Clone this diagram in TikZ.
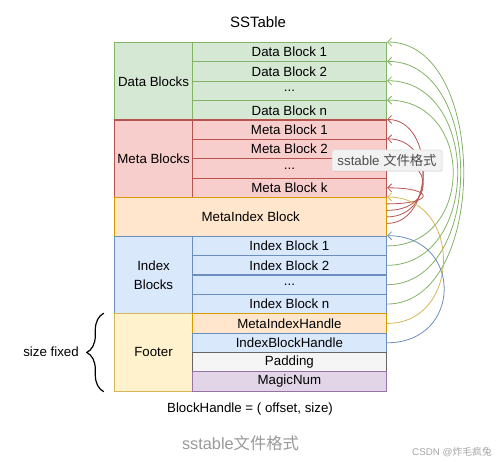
\documentclass[tikz,border=0pt]{standalone}
\usepackage{fontspec}
\setmainfont{Liberation Sans}
\newfontfamily\cjk{Noto Sans CJK SC}
\usetikzlibrary{arrows.meta,decorations.pathreplacing,shadows}
\definecolor{dbfill}{HTML}{D5E8D4}
\definecolor{dbline}{HTML}{82B366}
\definecolor{mbfill}{HTML}{F8CECC}
\definecolor{mbline}{HTML}{B85450}
\definecolor{mifill}{HTML}{FFE6CC}
\definecolor{miline}{HTML}{D79B00}
\definecolor{ibfill}{HTML}{DAE8FC}
\definecolor{ibline}{HTML}{6C8EBF}
\definecolor{ftfill}{HTML}{FFF2CC}
\definecolor{ftline}{HTML}{D6B656}
\definecolor{padfill}{HTML}{F5F5F5}
\definecolor{padline}{HTML}{666666}
\definecolor{mnfill}{HTML}{E1D5E7}
\definecolor{mnline}{HTML}{9673A6}
\begin{document}
\begin{tikzpicture}[x=1pt,y=-1pt,
    txt/.style={font=\fontsize{13.3}{19}\selectfont},
    cell/.style={txt, draw, line width=1.1pt, anchor=north west, inner sep=0pt,
      minimum width=194.3pt, minimum height=19.37pt},
    group/.style={cell, minimum width=77.4pt, minimum height=77.48pt, align=center},
    link/.style={line width=0.8pt, -{Straight Barb[length=4pt,width=8pt]}},
    tipbox/.style={txt, fill=black!5, draw=black!15, line width=0.5pt, rounded corners=2pt,
      minimum width=110pt, minimum height=21pt, inner sep=0pt, text=black!70,
      drop shadow={opacity=0.12, shadow xshift=0.6pt, shadow yshift=-1pt}}]
  \useasboundingbox (0,0) rectangle (499,462);
  \node[font=\fontsize{15}{18}\selectfont] (title) at (258,22) {SSTable};

  \node[group, fill=dbfill, draw=dbline] (data) at (114.3,42) {Data Blocks};
  \node[cell, fill=dbfill, draw=dbline] (db1) at (191.7,42) {Data Block 1};
  \node[cell, fill=dbfill, draw=dbline] (db2) at (191.7,61.37) {Data Block 2};
  \node[cell, fill=dbfill, draw=dbline] (db3) at (191.7,80.74) {...};
  \node[cell, fill=dbfill, draw=dbline] (db4) at (191.7,100.11) {Data Block n};

  \node[group, fill=mbfill, draw=mbline] (meta) at (114.3,119.48) {Meta Blocks};
  \node[cell, fill=mbfill, draw=mbline] (mb1) at (191.7,119.48) {Meta Block 1};
  \node[cell, fill=mbfill, draw=mbline] (mb2) at (191.7,138.85) {Meta Block 2};
  \node[cell, fill=mbfill, draw=mbline] (mb3) at (191.7,158.22) {...};
  \node[cell, fill=mbfill, draw=mbline] (mb4) at (191.7,177.59) {Meta Block k};

  \node[cell, fill=mifill, draw=miline, minimum width=271.7pt, minimum height=38.74pt]
    (mib) at (114.3,196.96) {MetaIndex Block};

  \node[group, fill=ibfill, draw=ibline] (index) at (114.3,235.7) {Index\\Blocks};
  \node[cell, fill=ibfill, draw=ibline] (ib1) at (191.7,235.7) {Index Block 1};
  \node[cell, fill=ibfill, draw=ibline] (ib2) at (191.7,255.07) {Index Block 2};
  \node[cell, fill=ibfill, draw=ibline] (ib3) at (191.7,274.44) {...};
  \node[cell, fill=ibfill, draw=ibline] (ib4) at (191.7,293.81) {Index Block n};

  \node[group, fill=ftfill, draw=ftline] (footer) at (114.3,313.18) {Footer};
  \node[cell, fill=mifill, draw=miline] (mih) at (191.7,313.18) {MetaIndexHandle};
  \node[cell, fill=ibfill, draw=ibline] (ibh) at (191.7,332.55) {IndexBlockHandle};
  \node[cell, fill=padfill, draw=padline] (pad) at (191.7,351.92) {Padding};
  \node[cell, fill=mnfill, draw=mnline] (magic) at (191.7,371.29) {MagicNum};

  \begin{scope}[link]
    \draw[dbline] (ib1.east) to[out=0,in=0,distance=88pt] (db4.north east);
    \draw[dbline] (ib2.east) to[out=0,in=0,distance=94pt] (db3.north east);
    \draw[dbline] (ib3.east) to[out=0,in=0,distance=98pt] (db2.north east);
    \draw[dbline] (ib4.east) to[out=0,in=0,distance=102pt] (db1.north east);
    \draw[mbline] ([yshift=13pt]mib.east) to[out=0,in=0,distance=48pt] (mb4.east);
    \draw[mbline] ([yshift=6.5pt]mib.east) to[out=0,in=0,distance=48pt] (mb3.north east);
    \draw[mbline] (mib.east) to[out=0,in=0,distance=48pt] (mb2.north east);
    \draw[mbline] ([yshift=-6.5pt]mib.east) to[out=0,in=0,distance=48pt] (mb1.north east);
    \draw[ftline] (mih.east) to[out=0,in=0,distance=75pt] (mib.north east);
    \draw[ibline] (ibh.east) to[out=0,in=0,distance=76pt] (ib1.north east);
  \end{scope}

  \draw[line width=1.2pt, decorate, decoration={brace, amplitude=17pt}]
    ([xshift=-10.5pt]footer.south west) -- ([xshift=-10.5pt]footer.north west);
  \node[txt] (fixed) at (51,352) {size fixed};

  \node[txt] (handle) at (250,409) {BlockHandle = ( offset, size)};
  \node[font=\fontsize{16.3}{19}\selectfont, text=black!40] (caption) at (240.5,443)
    {sstable{\cjk 文件格式}};
  \node[font=\fontsize{9.8}{12}\selectfont, text=black!35] (csdn) at (452,452)
    {CSDN @{\cjk 炸毛疯兔}};

  \node[tipbox] (tip) at (387,160.5) {sstable {\cjk 文件格式}};
\end{tikzpicture}
\end{document}
